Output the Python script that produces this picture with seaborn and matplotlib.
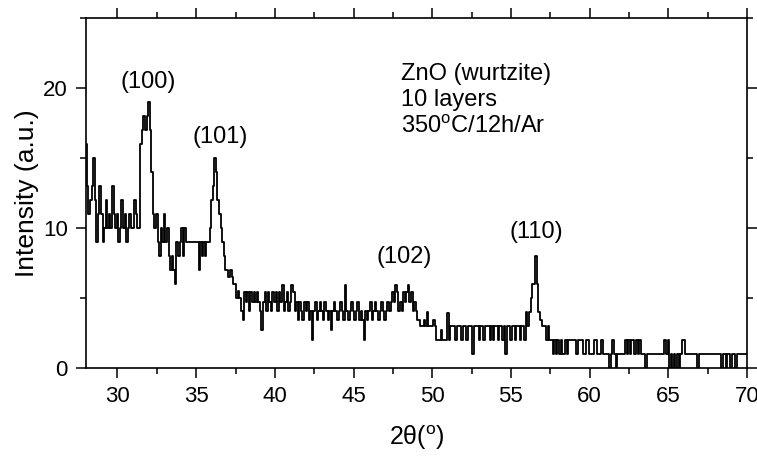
import numpy as np
import pandas as pd
import matplotlib
matplotlib.use("Agg")
import matplotlib.pyplot as plt
from matplotlib.ticker import MultipleLocator
import seaborn as sns

# 2-theta scan, 0.1 deg steps from 28.0 to 70.0
two_theta = np.round(np.arange(28.0, 70.05, 0.1), 1)

# intensity, one row per degree
intensity = [
    16, 13, 11, 12, 13, 15, 12, 9, 11, 13,                      # 28
    11, 9, 10, 12, 10, 11, 10, 13, 11, 10,                      # 29
    11, 9, 10, 12, 10, 11, 9, 10, 11, 10,                       # 30
    10, 12, 11, 10, 10, 16, 17, 18, 17, 18,                     # 31
    19, 17, 14, 11, 10, 11, 9, 8, 10, 9,                        # 32
    11, 9, 10, 8, 7, 8, 7, 6, 9, 8,                             # 33
    9, 10, 8, 10, 9, 9, 9, 9, 9, 9,                             # 34
    9, 9, 7, 9, 8, 9, 8, 9, 9, 10,                              # 35
    12, 13, 15, 14, 12, 11, 10, 9, 8, 7,                        # 36
    7, 6.5, 7, 6.5, 6, 6, 5, 5.5, 5, 4.1,                       # 37
    3.4, 5.4, 4.7, 5.4, 4.1, 5.4, 4.7, 5.4, 4.7, 5.4,           # 38
    4.7, 4.1, 2.7, 4.7, 5.4, 4.1, 5.4, 4.7, 4.1, 5.4,           # 39
    4.7, 5.4, 4.1, 5.4, 4.7, 5.9, 4.1, 4.7, 5.4, 4.1,           # 40
    4.7, 5.9, 5.4, 4.1, 4.7, 3.4, 4.7, 4.1, 3.4, 4.7,           # 41
    4.1, 4.7, 3.4, 4.1, 2.0, 4.1, 4.7, 3.4, 4.1, 4.7,           # 42
    4.1, 3.4, 4.7, 4.1, 3.4, 4.1, 2.7, 4.1, 4.7, 4.1,           # 43
    3.4, 4.1, 4.7, 4.1, 3.4, 5.9, 4.1, 3.4, 4.1, 4.7,           # 44
    4.1, 3.4, 4.1, 4.7, 3.4, 4.1, 3.4, 2.0, 4.1, 3.4,           # 45
    4.1, 4.7, 3.4, 4.1, 4.7, 4.1, 3.4, 4.1, 4.7, 4.1,           # 46
    3.4, 4.1, 4.7, 4.1, 4.7, 5.4, 4.7, 5.9, 5.4, 4.1,           # 47
    4.7, 4.1, 5.4, 4.7, 5.4, 5.9, 4.7, 5.4, 4.1, 4.7,           # 48
    4.1, 3.4, 3.4, 3.0, 3.0, 3.4, 3.0, 4.0, 3.0, 3.0,           # 49
    3.0, 3.4, 3.0, 2.0, 2.0, 2.0, 2.7, 2.0, 2.0, 2.0,           # 50
    3.9, 2.0, 3.0, 3.0, 3.0, 2.0, 3.0, 3.0, 3.0, 2.0,           # 51
    3.0, 3.0, 2.0, 3.0, 3.0, 3.0, 1.0, 3.0, 3.0, 3.0,           # 52
    2.0, 3.0, 3.0, 2.0, 3.0, 3.0, 3.0, 2.0, 3.0, 2.0,           # 53
    3.0, 3.0, 2.0, 3.0, 3.0, 2.0, 3.0, 1.0, 3.0, 3.0,           # 54
    2.0, 3.0, 3.0, 2.0, 3.0, 3.0, 2.0, 3.0, 3.0, 2.0,           # 55
    4.0, 3.0, 4.0, 5.0, 6.0, 6.0, 8.0, 6.0, 4.0, 3.4,           # 56
    3.0, 3.0, 3.0, 2.0, 3.0, 2.0, 2.0, 1.0, 2.0, 1.0,           # 57
    2, 1, 2, 1, 1, 2, 1, 2, 2, 2,                               # 58
    2, 2, 1, 2, 2, 2, 1, 1, 2, 2,                               # 59
    1, 1, 1, 2, 2, 1, 1, 1, 2, 1,                               # 60
    1, 1, 1, 0, 1, 2, 1, 0, 1, 1,                               # 61
    1, 1, 1, 2, 1, 2, 1, 2, 2, 1,                               # 62
    2, 1, 2, 1, 1, 1, 0, 1, 1, 1,                               # 63
    1, 1, 1, 1, 1, 1, 1, 1, 2, 1,                               # 64
    2, 0, 1, 0, 1, 0, 1, 0, 1, 2,                               # 65
    2, 1, 1, 1, 1, 1, 1, 1, 1, 0,                               # 66
    1, 1, 1, 1, 1, 1, 1, 1, 1, 1,                               # 67
    1, 1, 1, 1, 0, 1, 1, 0, 1, 1,                               # 68
    0, 1, 1, 0, 1, 1, 1, 1, 1, 1,                               # 69
    1,                                                          # 70
]

peak_labels = ["(100)", "(101)", "(102)", "(110)"]
peak_x = [31.95, 36.55, 48.2, 56.6]
peak_y = [20.4, 16.5, 7.9, 9.7]

info_lines = ["ZnO (wurtzite)", "10 layers", r"350$^{\mathrm{o}}$C/12h/Ar"]
info_y = [20.55, 18.7, 16.8]

df = pd.DataFrame({"two_theta": two_theta, "intensity": intensity})

sns.set_style("ticks")
plt.rcParams["font.family"] = ["Liberation Sans", "DejaVu Sans"]
plt.rcParams["mathtext.fontset"] = "custom"
plt.rcParams["mathtext.rm"] = "Liberation Sans"
plt.rcParams["mathtext.it"] = "Liberation Sans:italic"
plt.rcParams["text.color"] = "black"
plt.rcParams["axes.labelcolor"] = "black"

fig = plt.figure(figsize=(7.57, 4.61), dpi=100)
ax = fig.add_axes([0.1136, 0.2017, 0.8732, 0.7593])

sns.lineplot(data=df, x="two_theta", y="intensity", drawstyle="steps-mid",
             color="black", linewidth=1.3, estimator=None, ax=ax)

ax.set_xlim(28, 70)
ax.set_ylim(0, 25)
ax.xaxis.set_major_locator(MultipleLocator(5))
ax.xaxis.set_minor_locator(MultipleLocator(2.5))
ax.yaxis.set_major_locator(MultipleLocator(10))
ax.yaxis.set_minor_locator(MultipleLocator(5))
ax.tick_params(which="both", direction="out", top=True, right=True,
               labeltop=False, labelright=False, width=1.1,
               color="black", labelcolor="black")
ax.tick_params(which="major", length=7, labelsize=16, pad=6)
ax.tick_params(which="minor", length=4.5)
for s in ax.spines.values():
    s.set_linewidth(1.2)
    s.set_color("black")

ax.set_xlabel(r"2θ($^{\mathrm{o}}$)", fontsize=18, labelpad=12)
ax.set_ylabel("Intensity (a.u.)", fontsize=19, labelpad=3)

for lab, x, y in zip(peak_labels, peak_x, peak_y):
    ax.text(x, y, lab, fontsize=17, ha="center", va="center")
for line, y in zip(info_lines, info_y):
    ax.text(48.0, y, line, fontsize=17, ha="left", va="baseline")

fig.savefig("out.png", dpi=100)
